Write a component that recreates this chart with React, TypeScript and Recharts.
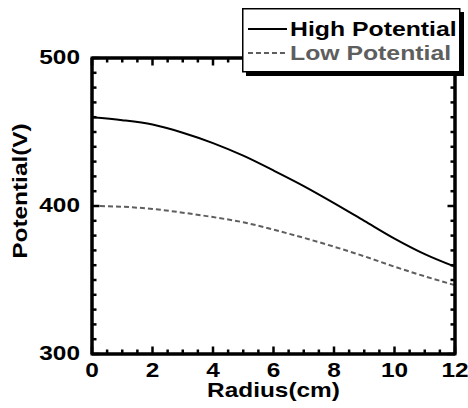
import { LineChart, Line, XAxis, YAxis, Legend } from 'recharts';

// radius in cm, potential in V
const radius = [0, 1, 2, 3, 4, 5, 6, 7, 8, 9, 10, 11, 12];
const highPotential = [460, 458, 455, 449.5, 442.5, 434, 424, 413.5, 402, 390, 378, 367.5, 359];
const lowPotential = [400, 399.5, 398, 395.5, 392.5, 389, 384, 378.5, 372.5, 366, 359, 352.5, 346.5];

const xMajorTicks = [0, 2, 4, 6, 8, 10, 12];
const yMajorTicks = [300, 400, 500];
const xMinorStep = 0.5;
const yMinorStep = 10;
const X_DOMAIN = [0, 12];
const Y_DOMAIN = [300, 500];

const xTicks: number[] = [];
for (let v = X_DOMAIN[0]; v <= X_DOMAIN[1]; v += xMinorStep) xTicks.push(v);
const yTicks: number[] = [];
for (let v = Y_DOMAIN[0]; v <= Y_DOMAIN[1]; v += yMinorStep) yTicks.push(v);

const data = radius.map((r, i) => ({ r, high: highPotential[i], low: lowPotential[i] }));

const W = 468;
const H = 408;
// plot box; the chart margins and axis sizes below are derived from it
const PLOT = { left: 92, top: 58, right: 455, bottom: 354 };

const FONT = '"Liberation Sans", Arial, sans-serif';
const STRETCH = 1.22;
const GRAY = '#5e5e5e';
const FRAME = { stroke: '#000', strokeWidth: 3 };

const SERIES_STYLE: Record<string, { color: string; dash?: string; label: string }> = {
  high: { color: '#000', label: 'High Potential' },
  low: { color: GRAY, dash: '5 3', label: 'Low Potential' },
};

const BottomTick = ({ x, y, payload }: any) => {
  if (!xMajorTicks.includes(payload.value)) return <g />;
  return (
    <text
      transform={`translate(${x},${y + 23}) scale(${STRETCH},1)`}
      textAnchor="middle"
      fontFamily={FONT}
      fontWeight="bold"
      fontSize={20}
      fill="#000"
    >
      {payload.value}
    </text>
  );
};

const LeftTick = ({ x, y, payload }: any) => {
  if (!yMajorTicks.includes(payload.value)) return <g />;
  return (
    <text
      transform={`translate(${x - 12},${y + 6}) scale(${STRETCH},1)`}
      textAnchor="end"
      fontFamily={FONT}
      fontWeight="bold"
      fontSize={20}
      fill="#000"
    >
      {payload.value}
    </text>
  );
};

const XTitle = (props: any) => {
  const vb = props.viewBox;
  return (
    <text
      transform={`translate(${vb.x + vb.width / 2},${vb.y + 43}) scale(${STRETCH},1)`}
      textAnchor="middle"
      fontFamily={FONT}
      fontWeight="bold"
      fontSize={20}
      fill="#000"
    >
      Radius(cm)
    </text>
  );
};

const YTitle = (props: any) => {
  const vb = props.viewBox;
  return (
    <text
      transform={`translate(${vb.x + 27},${vb.y + vb.height / 2 - 15}) rotate(-90) scale(${STRETCH},1)`}
      textAnchor="middle"
      fontFamily={FONT}
      fontWeight="bold"
      fontSize={20}
      fill="#000"
    >
      Potential(V)
    </text>
  );
};

const LegendBox = ({ payload }: any) => (
  <svg width={226} height={72} style={{ display: 'block' }}>
    <rect x={4} y={4} width={218} height={64} fill="#000" />
    <rect x={0.75} y={0.75} width={217} height={63} fill="#fff" stroke="#000" strokeWidth={1.5} />
    {(payload ?? []).map((item: any, i: number) => {
      const s = SERIES_STYLE[item.dataKey];
      if (!s) return null;
      const cy = i === 0 ? 21 : 45;
      return (
        <g key={item.dataKey}>
          <line x1={6} y1={cy} x2={45} y2={cy} stroke={s.color} strokeWidth={2} strokeDasharray={s.dash} />
          <text
            transform={`translate(48,${cy + 7}) scale(1.24,1)`}
            fontFamily={FONT}
            fontWeight="bold"
            fontSize={20}
            fill={s.color}
          >
            {s.label}
          </text>
        </g>
      );
    })}
  </svg>
);

// frame + inward tick marks on all four sides, laid over the chart
const toPxX = (v: number) =>
  PLOT.left + ((v - X_DOMAIN[0]) / (X_DOMAIN[1] - X_DOMAIN[0])) * (PLOT.right - PLOT.left);
const toPxY = (v: number) =>
  PLOT.bottom - ((v - Y_DOMAIN[0]) / (Y_DOMAIN[1] - Y_DOMAIN[0])) * (PLOT.bottom - PLOT.top);

const FrameTicks = () => (
  <svg
    width={W}
    height={H}
    style={{ position: 'absolute', left: 0, top: 0, zIndex: 1, pointerEvents: 'none' }}
  >
    <rect
      x={PLOT.left}
      y={PLOT.top}
      width={PLOT.right - PLOT.left}
      height={PLOT.bottom - PLOT.top}
      fill="none"
      stroke="#000"
      strokeWidth={3}
    />
    {xTicks.map((v) => {
      const len = xMajorTicks.includes(v) ? 7.5 : 4.5;
      const x = toPxX(v);
      return (
        <g key={`x${v}`} stroke="#000" strokeWidth={2.5}>
          <line x1={x} y1={PLOT.bottom} x2={x} y2={PLOT.bottom - len} />
          <line x1={x} y1={PLOT.top} x2={x} y2={PLOT.top + len} />
        </g>
      );
    })}
    {yTicks.map((v) => {
      const len = yMajorTicks.includes(v) ? 7.5 : 4.5;
      const y = toPxY(v);
      return (
        <g key={`y${v}`} stroke="#000" strokeWidth={2.5}>
          <line x1={PLOT.left} y1={y} x2={PLOT.left + len} y2={y} />
          <line x1={PLOT.right} y1={y} x2={PLOT.right - len} y2={y} />
        </g>
      );
    })}
  </svg>
);

export default function App() {
  return (
    <div style={{ position: 'absolute', left: 0, top: 0, width: W, height: H, background: '#fff' }}>
      <LineChart
        width={W}
        height={H}
        data={data}
        margin={{ top: PLOT.top - 1, right: W - PLOT.right - 1, bottom: 0, left: 0 }}
      >
        <XAxis
          dataKey="r"
          type="number"
          domain={X_DOMAIN}
          ticks={xTicks}
          interval={0}
          tickSize={0}
          tickMargin={0}
          tickLine={false}
          axisLine={FRAME}
          tick={<BottomTick />}
          height={H - PLOT.bottom}
          label={XTitle}
        />
        <XAxis
          xAxisId="top"
          orientation="top"
          dataKey="r"
          type="number"
          domain={X_DOMAIN}
          tickLine={false}
          axisLine={FRAME}
          tick={false}
          height={1}
        />
        <YAxis
          type="number"
          domain={Y_DOMAIN}
          ticks={yTicks}
          interval={0}
          tickSize={0}
          tickMargin={0}
          tickLine={false}
          axisLine={FRAME}
          tick={<LeftTick />}
          width={PLOT.left}
          label={YTitle}
        />
        <YAxis
          yAxisId="right"
          orientation="right"
          type="number"
          domain={Y_DOMAIN}
          tickLine={false}
          axisLine={FRAME}
          tick={false}
          width={1}
        />
        <Line
          dataKey="high"
          name="High Potential"
          type="monotone"
          stroke={SERIES_STYLE.high.color}
          strokeWidth={2}
          dot={false}
          isAnimationActive={false}
        />
        <Line
          dataKey="low"
          name="Low Potential"
          type="monotone"
          stroke={SERIES_STYLE.low.color}
          strokeWidth={2}
          strokeDasharray={SERIES_STYLE.low.dash}
          dot={false}
          isAnimationActive={false}
        />
        <Legend
          layout="vertical"
          verticalAlign="middle"
          align="center"
          wrapperStyle={{ left: 242, top: 8, width: 226, height: 72, zIndex: 2 }}
          content={<LegendBox />}
        />
      </LineChart>
      <FrameTicks />
    </div>
  );
}
